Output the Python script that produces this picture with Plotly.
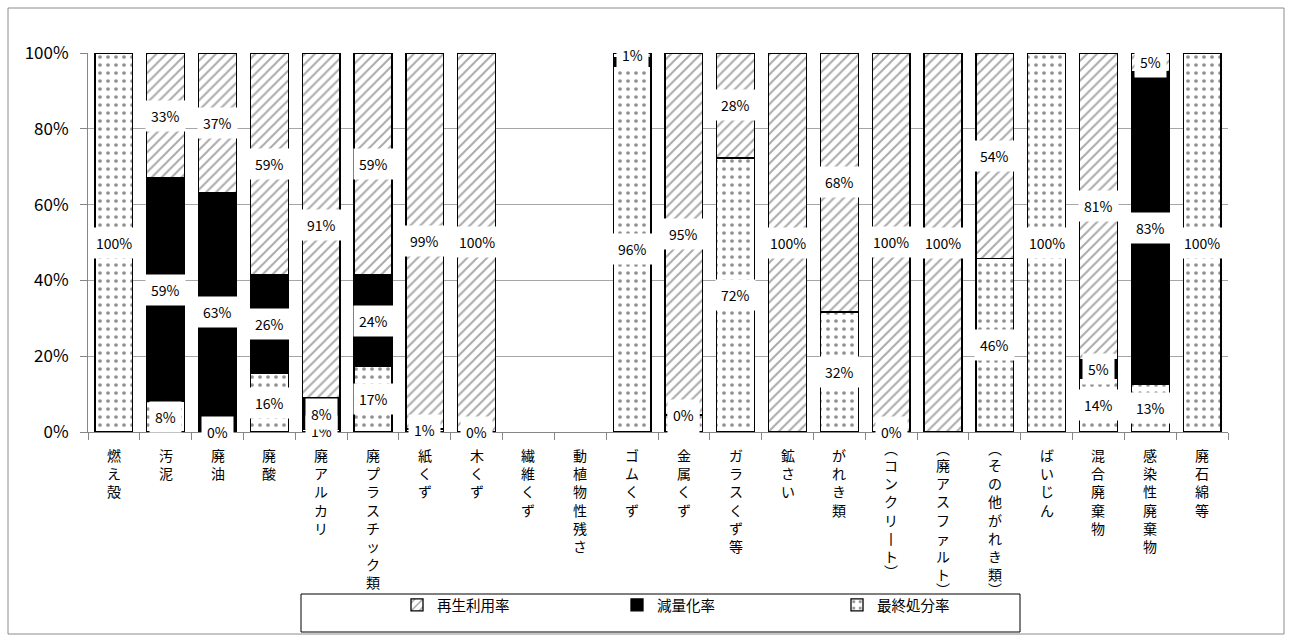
import plotly.graph_objects as go

categories = ["燃え殻", "汚泥", "廃油", "廃酸", "廃アルカリ", "廃プラスチック類", "紙くず", "木くず",
              "繊維くず", "動植物性残さ", "ゴムくず", "金属くず", "ガラスくず等", "鉱さい", "がれき類",
              "（コンクリート）", "（廃アスファルト）", "（その他がれき類）", "ばいじん", "混合廃棄物",
              "感染性廃棄物", "廃石綿等"]

# percentages (%)
final_rate = [100, 8.0, 0.2, 15.5, 0.6, 17.2, 0.8, 0.2, None, None, 96.4, 4.3, 72.3, 0, 31.7,
              0.2, 0, 45.8, 100, 14.2, 12.6, 100]
reduction_rate = [0, 59.0, 63.0, 25.9, 8.4, 24.2, 0, 0, None, None, 2.5, 0.4, 0, 0, 0,
                  0, 0, 0, 0, 5.0, 82.6, 0]
recycle_rate = [0, 33.0, 36.8, 58.6, 91.0, 58.6, 99.2, 99.8, None, None, 1.1, 95.3, 27.7, 100, 68.3,
                99.8, 100, 54.2, 0, 80.8, 4.8, 0]

y_tick_values = [0, 20, 40, 60, 80, 100]
y_tick_labels = ["0%", "20%", "40%", "60%", "80%", "100%"]

series_names = ["最終処分率", "減量化率", "再生利用率"]
hidden_labels = [("ゴムくず", "減量化率")]

FONT = "Noto Sans CJK JP"

L, R, T, B = 88, 64, 53, 207
W, H = 1292, 639
pw, ph = W - L - R, H - T - B


def px_x(p):
    return (p - L) / pw


def px_y(p):
    return (H - B - p) / ph


fig = go.Figure()
line = dict(color="black", width=1.3)
fig.add_trace(go.Bar(
    x=categories, y=final_rate, name="最終処分率",
    marker=dict(color="white", line=line,
                pattern=dict(shape=".", fgcolor="#222222", bgcolor="white", size=8, solidity=0.17)),
))
fig.add_trace(go.Bar(
    x=categories, y=reduction_rate, name="減量化率",
    marker=dict(color="black", line=line),
))
fig.add_trace(go.Bar(
    x=categories, y=recycle_rate, name="再生利用率",
    marker=dict(color="white", line=line,
                pattern=dict(shape="/", fgcolor="#555555", bgcolor="white", size=7, solidity=0.28)),
))

annotations = []

# vertical (tategaki) category labels
LABEL_TOP = 443
LINE_H = 14 * 1.3
PAREN_ADV = 9
cat_font = dict(family=FONT, size=14, color="black")
for cat in categories:
    body = cat
    top = LABEL_TOP
    if cat.startswith("（") and cat.endswith("）"):
        body = cat[1:-1]
        annotations.append(dict(x=cat, xref="x", y=px_y(top + PAREN_ADV / 2), yref="paper",
                                text="︵", showarrow=False, yanchor="middle", font=cat_font))
        top += PAREN_ADV + 1
        end = top + len(body) * LINE_H + 4
        annotations.append(dict(x=cat, xref="x", y=px_y(end + PAREN_ADV / 2), yref="paper",
                                text="︶", showarrow=False, yanchor="middle", font=cat_font))
    text = "<br>".join("丨" if ch == "ー" else ch for ch in body)
    annotations.append(dict(x=cat, xref="x", y=px_y(top), yref="paper", text=text,
                            showarrow=False, yanchor="top", xanchor="center", font=cat_font))

# data labels
data = [final_rate, reduction_rate, recycle_rate]
for i, cat in enumerate(categories):
    base = 0.0
    for name, vals in zip(series_names, data):
        v = vals[i]
        if v is None:
            continue
        if v > 0 and (cat, name) not in hidden_labels:
            annotations.append(dict(
                x=cat, y=base + v / 2, xref="x", yref="y",
                text=f"{int(v + 0.5)}%", showarrow=False,
                bgcolor="white", borderpad=5,
                font=dict(family=FONT, size=14, color="black"),
            ))
        base += v

fig.update_layout(
    width=W, height=H,
    margin=dict(l=L, r=R, t=T, b=B, pad=0),
    barmode="stack", bargap=0.27,
    paper_bgcolor="white", plot_bgcolor="white",
    font=dict(family=FONT, size=14, color="black"),
    showlegend=True,
    legend=dict(
        orientation="h", traceorder="reversed",
        x=px_x(397), xanchor="left",
        y=px_y(589), yanchor="top",
        borderwidth=0, bgcolor="rgba(0,0,0,0)",
        entrywidth=175, entrywidthmode="pixels",
        itemwidth=30,
        font=dict(family=FONT, size=14.5, color="black"),
    ),
    annotations=annotations,
    shapes=[
        dict(type="rect", xref="paper", yref="paper",
             x0=px_x(8), x1=px_x(W - 8), y0=px_y(H - 5), y1=px_y(8),
             line=dict(color="#8c8c8c", width=1), fillcolor="rgba(0,0,0,0)", layer="below"),
        dict(type="rect", xref="paper", yref="paper",
             x0=px_x(301), x1=px_x(1020), y0=px_y(632), y1=px_y(594),
             line=dict(color="black", width=1), fillcolor="white", layer="above"),
    ],
)

fig.update_xaxes(
    type="category",
    tickvals=categories, showticklabels=False,
    showline=True, linecolor="#868686", linewidth=1,
    ticks="outside", tickson="boundaries", ticklen=7, tickcolor="#868686",
    showgrid=False,
)
fig.update_yaxes(
    range=[0, 100], tickmode="array", tickvals=y_tick_values, ticktext=y_tick_labels,
    showline=True, linecolor="#868686", linewidth=1,
    ticks="outside", ticklen=7, tickcolor="#868686",
    ticklabelstandoff=8,
    showgrid=True, gridcolor="#a6a6a6", gridwidth=1,
    zeroline=False,
    tickfont=dict(family=FONT, size=17, color="black"),
)

fig.write_html("out.html", config={"displayModeBar": False},
               post_script="document.body.style.margin='0px';")
